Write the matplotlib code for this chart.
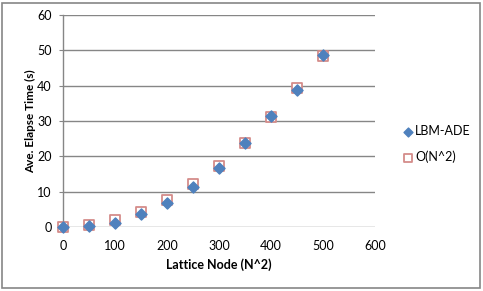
import matplotlib
matplotlib.use("Agg")
import matplotlib.pyplot as plt
from matplotlib.patches import Rectangle

# Data
lattice_nodes = [0, 50, 100, 150, 200, 250, 300, 350, 400, 450, 500]
lbm_ade = [0.0, 0.2, 1.2, 3.8, 6.8, 11.4, 16.6, 23.7, 31.5, 38.9, 48.6]
o_n2 = [0.0, 0.5, 1.9, 4.3, 7.6, 12.1, 17.2, 23.7, 31.2, 39.3, 48.5]

x_ticks = [0, 100, 200, 300, 400, 500, 600]
y_ticks = [0, 10, 20, 30, 40, 50, 60]

plt.rcParams['font.family'] = ['Lato', 'DejaVu Sans']

W, H = 483, 291
fig = plt.figure(figsize=(W / 100, H / 100), dpi=100)
fig.patch.set_facecolor('white')

# axes rectangle in pixels: left 63, right 375, top 15, bottom 227
ax = fig.add_axes([63 / W, 1 - 227 / H, (375 - 63) / W, (227 - 15) / H])

ax.scatter(lattice_nodes, o_n2, marker='s', s=62, facecolors='white',
           edgecolors='#D48C8A', linewidths=1.3, zorder=3, label='O(N^2)')
ax.scatter(lattice_nodes, lbm_ade, marker='D', s=32, color='#4F81BD',
           edgecolors='#4F81BD', zorder=4, label='LBM-ADE')

ax.set_xlim(0, 600)
ax.set_ylim(0, 60)
ax.set_xticks(x_ticks)
ax.set_yticks(y_ticks)
ax.tick_params(axis='both', labelsize=9, length=0, pad=9, colors='black')
ax.tick_params(axis='y', length=3, color='#868686', pad=5)
ax.grid(axis='y', color='#868686', linewidth=1)
ax.set_axisbelow(True)
for side in ['top', 'right', 'bottom']:
    ax.spines[side].set_visible(False)
ax.spines['left'].set_color('#868686')
ax.spines['left'].set_linewidth(1)
for coll in ax.collections:
    coll.set_clip_on(False)

ax.set_xlabel('Lattice Node (N^2)', fontsize=9, fontweight='bold', labelpad=5)
ax.set_ylabel('Ave. Elapse Time (s)', fontsize=8.5, fontweight='bold', labelpad=1)

# legend: LBM-ADE first, then O(N^2)
handles, labels = ax.get_legend_handles_labels()
leg = fig.legend(handles[::-1], labels[::-1], loc='center left',
                 bbox_to_anchor=(389 / W, 1 - 144 / H), frameon=False, fontsize=9,
                 handletextpad=0.0, labelspacing=1.1, handlelength=1.2,
                 markerscale=0.8)

# chart border
fig.patches.append(Rectangle((2 / W, 3 / H), (W - 5) / W, (H - 6) / H,
                             transform=fig.transFigure, fill=False,
                             edgecolor='#868686', linewidth=1.2))

fig.savefig('out.png', dpi=100)
